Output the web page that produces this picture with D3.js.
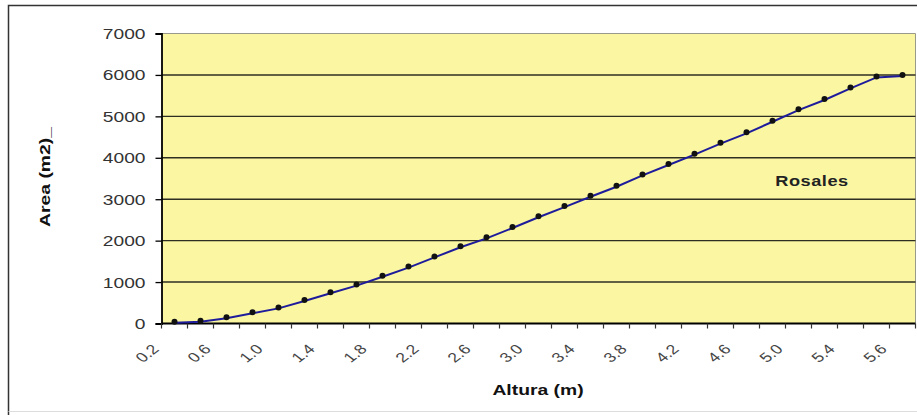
<!DOCTYPE html>
<html><head><meta charset="utf-8">
<script src="https://cdn.jsdelivr.net/npm/d3@7/dist/d3.min.js"></script>
<style>html,body{margin:0;padding:0;background:#fff;}svg{display:block;}</style>
</head><body>
<svg id="chart" width="917" height="415"></svg>
<script>
// Data
const alturas = ["0.2","0.4","0.6","0.8","1.0","1.2","1.4","1.6","1.8","2.0","2.2","2.4","2.6","2.8","3.0","3.2","3.4","3.6","3.8","4.0","4.2","4.4","4.6","4.8","5.0","5.2","5.4","5.5","5.6"];
const areas = [20,45,125,245,365,545,730,915,1130,1350,1595,1840,2055,2305,2565,2810,3060,3300,3575,3825,4075,4340,4590,4870,5150,5395,5675,5940,5975];
const yTicks = [0,1000,2000,3000,4000,5000,6000,7000];
const seriesName = "Rosales";
const xTitle = "Altura (m)";
const yTitle = "Area (m2)_";

const svg = d3.select("#chart");
const W = 917, H = 415;
const m = {left:161.5, right:915.5, top:33.5, bottom:323.5};

// outer frame
svg.append("path").attr("d",`M8.5,${H} V5.5 H${W}`).attr("fill","none").attr("stroke","#333").attr("stroke-width",1.5);
svg.append("line").attr("x1",8.5).attr("x2",W).attr("y1",411.5).attr("y2",411.5).attr("stroke","#ddd").attr("stroke-width",1);

const x = d3.scaleBand().domain(alturas).range([m.left,m.right]).padding(0);
const y = d3.scaleLinear().domain([0,7000]).range([m.bottom,m.top]);

// plot area
svg.append("rect").attr("x",m.left).attr("y",m.top).attr("width",m.right-m.left).attr("height",m.bottom-m.top)
  .attr("fill","#FAF6A2");
svg.append("path").attr("d",`M${m.left},${m.top} H${m.right} V${m.bottom}`).attr("fill","none").attr("stroke","#9a9a8a").attr("stroke-width",1);

// gridlines
svg.append("g").selectAll("line").data(yTicks.filter(d=>d>0 && d<7000)).join("line")
  .attr("x1",m.left).attr("x2",m.right).attr("y1",d=>y(d)).attr("y2",d=>y(d))
  .attr("stroke","#2e2e22").attr("stroke-width",1.4);

// y axis
const yAxis = svg.append("g").attr("transform",`translate(${m.left},0)`)
  .call(d3.axisLeft(y).tickValues(yTicks).tickSize(6).tickFormat(d3.format("d")));
yAxis.select(".domain").attr("stroke","#000").attr("stroke-width",1.8);
yAxis.selectAll(".tick line").attr("stroke","#000").attr("stroke-width",1.3);
yAxis.selectAll(".tick text").remove();
yAxis.selectAll(".tick").append("text")
  .attr("transform","translate(-16,0) scale(1.37,1)")
  .attr("text-anchor","end").attr("dy","0.36em")
  .attr("font-family","Liberation Sans, Arial, sans-serif").attr("font-size",14)
  .attr("fill","#333").text(d=>d);

// x axis
const xAxisG = svg.append("g").attr("transform",`translate(0,${m.bottom})`);
xAxisG.append("line").attr("x1",m.left).attr("x2",m.right).attr("y1",0).attr("y2",0).attr("stroke","#000").attr("stroke-width",1.8);
const bounds = alturas.map(a=>x(a)).concat([x(alturas[alturas.length-1])+x.bandwidth()]);
xAxisG.selectAll("line.tk").data(bounds).join("line").attr("class","tk")
  .attr("x1",d=>d).attr("x2",d=>d).attr("y1",0).attr("y2",5).attr("stroke","#333").attr("stroke-width",1.2);
xAxisG.selectAll("text").data(alturas.filter((d,i)=>i%2===0)).join("text")
  .attr("transform",d=>`translate(${x(d)-1.5},26.5) scale(1.3,1) rotate(-45)`)
  .attr("text-anchor","end")
  .attr("font-family","Liberation Sans, Arial, sans-serif").attr("font-size",13.5)
  .attr("fill","#444").text(d=>d);

// line
const pts = alturas.map((a,i)=>({a, v:areas[i]}));
svg.append("path").datum(pts)
  .attr("d", d3.line().x(d=>x(d.a)+x.bandwidth()/2).y(d=>y(d.v)).curve(d3.curveLinear))
  .attr("fill","none").attr("stroke","#1f1c9c").attr("stroke-width",2);
svg.append("g").selectAll("circle").data(pts).join("circle")
  .attr("cx",d=>x(d.a)+x.bandwidth()/2).attr("cy",d=>y(d.v)-1).attr("r",3)
  .attr("fill","#111");

// titles
svg.append("text").attr("transform",`translate(50,177) rotate(-90) scale(1.38,1)`)
  .attr("text-anchor","middle").attr("font-family","Liberation Sans, Arial, sans-serif")
  .attr("font-weight","bold").attr("font-size",14).attr("fill","#111").text(yTitle);
svg.append("text").attr("transform",`translate(538,395) scale(1.38,1)`)
  .attr("text-anchor","middle").attr("font-family","Liberation Sans, Arial, sans-serif")
  .attr("font-weight","bold").attr("font-size",14).attr("fill","#111").text(xTitle);
svg.append("text").attr("transform",`translate(812,186) scale(1.3,1)`)
  .attr("text-anchor","middle").attr("font-family","Liberation Sans, Arial, sans-serif")
  .attr("font-weight","bold").attr("font-size",14).attr("letter-spacing",0.4).attr("fill","#222").text(seriesName);
</script>
</body></html>
